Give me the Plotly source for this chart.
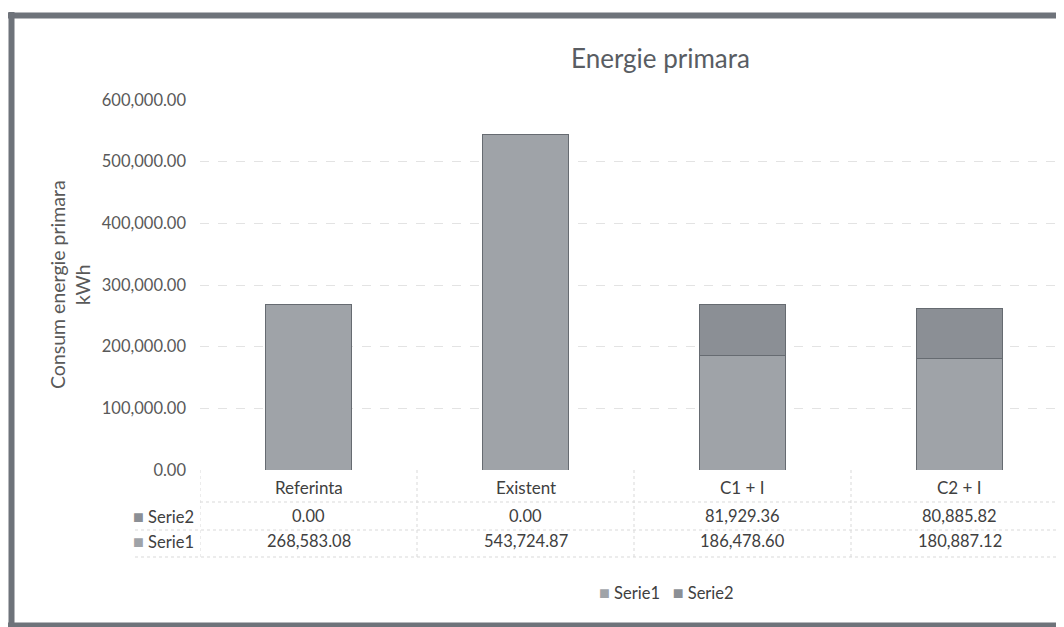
import plotly.graph_objects as go

categories = ["Referinta", "Existent", "C1 + I", "C2 + I"]
serie1 = [268583.08, 543724.87, 186478.60, 180887.12]
serie2 = [0.00, 0.00, 81929.36, 80885.82]
series_names = ["Serie1", "Serie2"]
y_ticks = [0, 100000, 200000, 300000, 400000, 500000, 600000]
title_text = "Energie primara"
y_title = "Consum energie primara<br>kWh"

col1 = "#9fa3a8"
col2 = "#8b8f95"
edge = "#666b71"
font_family = "Lato, 'Open Sans', sans-serif"

OFF = 8  # page body margin
W, H = 1064 - OFF, 627 - OFF
L, R, T = 200 - OFF, 0, 100 - OFF
PLOT_BOTTOM = 470 - OFF
B = H - PLOT_BOTTOM
PW = W - L - R
PH = H - T - B


def xp(px):
    return (px - OFF - L) / PW


def yp(py):
    return (PLOT_BOTTOM - (py - OFF)) / PH


def fmt(v):
    return f"{v:,.2f}"


fig = go.Figure()
fig.add_trace(go.Bar(x=list(range(len(categories))), y=serie1, name=series_names[0],
                     marker=dict(color=col1, line=dict(color=edge, width=1)), width=0.4))
fig.add_trace(go.Bar(x=list(range(len(categories))), y=serie2, name=series_names[1],
                     marker=dict(color=col2, line=dict(color=edge, width=1)), width=0.4))

txt = dict(size=16.5, color="#404040", family=font_family)
cat = dict(size=17, color="#404040", family=font_family)
ann = []
ann.append(dict(text=title_text, x=xp(660), y=yp(58), xref="paper", yref="paper",
                showarrow=False, font=dict(size=26, color="#595d63", family=font_family),
                xanchor="center", yanchor="middle"))
ann.append(dict(text=y_title, x=xp(70), y=yp(285), xref="paper", yref="paper",
                showarrow=False, textangle=-90, font=dict(size=19.5, color="#595959", family=font_family),
                xanchor="center", yanchor="middle"))
for i, c in enumerate(categories):
    ann.append(dict(text=c, x=i, y=yp(487), xref="x", yref="paper", showarrow=False,
                    font=cat, xanchor="center", yanchor="middle"))
    ann.append(dict(text=fmt(serie2[i]), x=i, y=yp(516), xref="x", yref="paper", showarrow=False,
                    font=txt, xanchor="center", yanchor="middle"))
    ann.append(dict(text=fmt(serie1[i]), x=i, y=yp(541), xref="x", yref="paper", showarrow=False,
                    font=txt, xanchor="center", yanchor="middle"))
sq = "<span style='color:%s;font-size:18px'>■</span> %s"
ann.append(dict(text=sq % (col2, series_names[1]), x=xp(196), y=yp(516),
                xref="paper", yref="paper", showarrow=False, font=txt, xanchor="right", yanchor="middle"))
ann.append(dict(text=sq % (col1, series_names[0]), x=xp(196), y=yp(541),
                xref="paper", yref="paper", showarrow=False, font=txt, xanchor="right", yanchor="middle"))
ann.append(dict(text=(sq % (col1, series_names[0])) + "   " + (sq % (col2, series_names[1])),
                x=xp(666), y=yp(592), xref="paper", yref="paper", showarrow=False, font=txt,
                xanchor="center", yanchor="middle"))

shapes = []
grid = "#d9d9d9"
for py, x0 in [(502, 200), (530, 135), (557, 135)]:
    shapes.append(dict(type="line", xref="paper", yref="paper", x0=xp(x0), x1=xp(1064),
                       y0=yp(py), y1=yp(py), line=dict(color=grid, width=1, dash="dot")))
for k in range(len(categories) + 1):
    shapes.append(dict(type="line", xref="x", yref="paper", x0=k - 0.5, x1=k - 0.5,
                       y0=yp(470), y1=yp(557), line=dict(color=grid, width=1, dash="dot")))
fc = "#6e737a"
shapes.append(dict(type="line", xref="paper", yref="paper", x0=xp(8), x1=xp(1070), y0=yp(15.5), y1=yp(15.5),
                   line=dict(color=fc, width=6)))
shapes.append(dict(type="line", xref="paper", yref="paper", x0=xp(11.5), x1=xp(11.5), y0=yp(12), y1=yp(628),
                   line=dict(color=fc, width=6)))
shapes.append(dict(type="line", xref="paper", yref="paper", x0=xp(8), x1=xp(1070), y0=yp(625), y1=yp(625),
                   line=dict(color=fc, width=5)))

fig.update_layout(
    width=W, height=H,
    margin=dict(l=L, r=R, t=T, b=B),
    barmode="stack",
    showlegend=False,
    paper_bgcolor="white", plot_bgcolor="white",
    font=dict(family=font_family, color="#595959"),
    annotations=ann, shapes=shapes,
    xaxis=dict(range=[-0.5, -0.5 + PW / 217.0], showticklabels=False, showgrid=False,
               zeroline=False, showline=False, ticks=""),
    yaxis=dict(range=[0, 600000], tickvals=y_ticks, ticktext=[fmt(v) for v in y_ticks],
               showgrid=True, gridcolor="#e3e3e3", griddash="dash", gridwidth=1,
               zeroline=False, showline=False, ticks="", ticklabelstandoff=13,
               tickfont=dict(size=16.5, color="#595959", family=font_family)),
)

fig.write_html("out.html")
